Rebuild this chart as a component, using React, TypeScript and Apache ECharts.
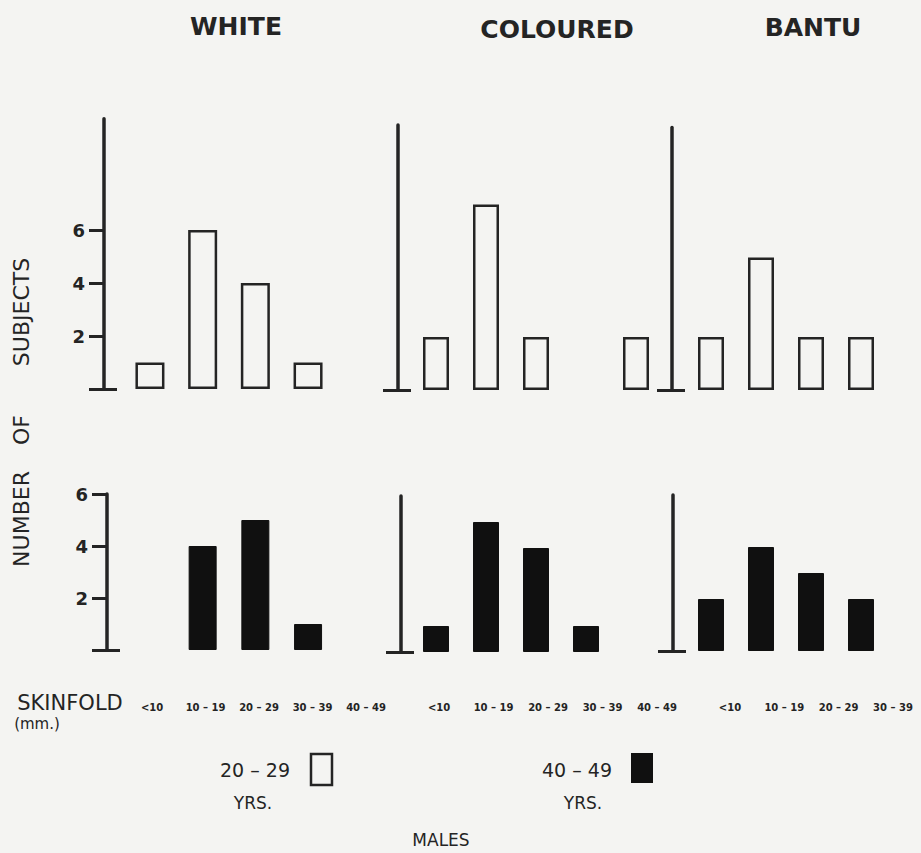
import React, { useEffect, useRef } from "react";
import * as echarts from "echarts";

// Skinfold thickness bands (mm)
const skinfoldBands = ["<10", "10 – 19", "20 – 29", "30 – 39", "40 – 49"];
const bantuBands = skinfoldBands.slice(0, 4);
const groups = ["WHITE", "COLOURED", "BANTU"];

// Number of subjects, males aged 20 – 29
const white2029 = [1, 6, 4, 1, 0];
const coloured2029 = [2, 7, 2, 0, 2];
const bantu2029 = [2, 5, 2, 2];

// Number of subjects, males aged 40 – 49
const white4049 = [0, 4, 5, 1, 0];
const coloured4049 = [1, 5, 4, 1, 0];
const bantu4049 = [2, 4, 3, 2];

const yTickValues = [2, 4, 6];
const ageGroups = ["20 – 29", "40 – 49"];

const INK = "#242424";
const SOLID = "#101010";
const PAPER = "#f4f4f2";
const FONT = "'DejaVu Sans', sans-serif";

type Panel = {
  cats: string[];
  values: number[];
  filled: boolean;
  left: number;
  width: number;
  top: number;
  height: number;
  max: number;
  axisOffset: number;
  labels: boolean;
  barWidth: number;
};

const panels: Panel[] = [
  { cats: skinfoldBands, values: white2029, filled: false, left: 123.6, width: 263.5, top: 118.7, height: 270.3, max: 10.2, axisOffset: 19.6, labels: true, barWidth: 29 },
  { cats: skinfoldBands, values: coloured2029, filled: false, left: 411, width: 250, top: 125, height: 265, max: 10, axisOffset: 13, labels: false, barWidth: 26 },
  { cats: bantuBands, values: bantu2029, filled: false, left: 686, width: 200, top: 127.6, height: 262.4, max: 9.9, axisOffset: 14, labels: false, barWidth: 26 },
  { cats: skinfoldBands, values: white4049, filled: true, left: 123.6, width: 263.5, top: 494, height: 156, max: 6, axisOffset: 16.6, labels: true, barWidth: 28 },
  { cats: skinfoldBands, values: coloured4049, filled: true, left: 411, width: 250, top: 496, height: 156, max: 6, axisOffset: 10, labels: false, barWidth: 26 },
  { cats: bantuBands, values: bantu4049, filled: true, left: 686, width: 200, top: 495, height: 156, max: 6, axisOffset: 13, labels: false, barWidth: 26 },
];

// Rows carrying the skinfold band labels under each group
const labelRows = [
  { cats: skinfoldBands, left: 125.3, width: 267.5 },
  { cats: skinfoldBands, left: 411.8, width: 272.5 },
  { cats: bantuBands, left: 702.8, width: 217.3 },
];

const titlePos = [
  [236, 26],
  [557, 29],
  [813, 27],
];

function text(t: string, x: number, y: number, size: number, weight: string, extra: any = {}) {
  return {
    type: "text",
    x,
    y,
    silent: true,
    ...extra,
    style: {
      text: t,
      fill: INK,
      fontSize: size,
      fontFamily: FONT,
      fontWeight: weight,
      textAlign: "center",
      textVerticalAlign: "middle",
    },
  };
}

function buildOption() {
  const grid: any[] = [];
  const xAxis: any[] = [];
  const yAxis: any[] = [];
  const series: any[] = [];

  panels.forEach((p, i) => {
    grid.push({ left: p.left, top: p.top, width: p.width, height: p.height, outerBoundsMode: "none" });
    xAxis.push({
      type: "category",
      gridIndex: i,
      data: p.cats,
      axisLine: { show: false },
      axisTick: { show: false },
      axisLabel: { show: false },
      splitLine: { show: false },
    });
    // main vertical axis with ticks outward
    yAxis.push({
      type: "value",
      gridIndex: i,
      min: 0,
      max: p.max,
      position: "left",
      offset: p.axisOffset,
      axisLine: { show: true, lineStyle: { color: INK, width: 3.5 } },
      axisTick: {
        show: true,
        length: 15,
        customValues: p.labels ? [0, ...yTickValues] : [0],
        lineStyle: { color: INK, width: 3 },
      },
      axisLabel: p.labels
        ? {
            show: true,
            customValues: yTickValues,
            margin: 19,
            fontSize: 18,
            fontWeight: "bold",
            fontFamily: FONT,
            color: INK,
          }
        : { show: false },
      splitLine: { show: false },
    });
    // base tick crossing the axis foot
    yAxis.push({
      type: "value",
      gridIndex: i,
      min: 0,
      max: p.max,
      position: "left",
      offset: p.axisOffset,
      axisLine: { show: false },
      axisTick: {
        show: true,
        inside: true,
        length: 13,
        customValues: [0],
        lineStyle: { color: INK, width: 3 },
      },
      axisLabel: { show: false },
      splitLine: { show: false },
    });
    series.push({
      type: "bar",
      name: p.filled ? ageGroups[1] : ageGroups[0],
      xAxisIndex: i,
      yAxisIndex: 2 * i,
      data: p.values.map((v) => (v === 0 ? null : v)),
      barWidth: p.barWidth,
      silent: true,
      itemStyle: p.filled
        ? { color: SOLID, borderColor: SOLID, borderWidth: 1 }
        : { color: PAPER, borderColor: INK, borderWidth: 2.5 },
    });
  });

  labelRows.forEach((r, j) => {
    const gi = panels.length + j;
    grid.push({ left: r.left, top: 695, width: r.width, height: 2, outerBoundsMode: "none" });
    xAxis.push({
      type: "category",
      gridIndex: gi,
      data: r.cats,
      position: "bottom",
      axisLine: { show: false },
      axisTick: { show: false },
      axisLabel: {
        show: true,
        interval: 0,
        margin: 5,
        fontSize: 10,
        fontWeight: "bold",
        fontFamily: FONT,
        color: INK,
      },
      splitLine: { show: false },
    });
    yAxis.push({ type: "value", gridIndex: gi, show: false });
  });

  const graphic: any[] = [];
  groups.forEach((g, k) => {
    graphic.push(text(g, titlePos[k][0], titlePos[k][1], 25, "bold"));
  });
  // vertical axis title
  graphic.push(text("SUBJECTS", 21, 312, 22, "normal", { rotation: Math.PI / 2 }));
  graphic.push(text("OF", 21, 430, 22, "normal", { rotation: Math.PI / 2 }));
  graphic.push(text("NUMBER", 21, 519, 22, "normal", { rotation: Math.PI / 2 }));
  // horizontal axis title
  graphic.push(text("SKINFOLD", 70, 703, 21, "normal"));
  graphic.push(text("(mm.)", 37, 724, 15, "normal"));
  // key
  graphic.push(text(ageGroups[0], 255, 770, 19, "normal"));
  graphic.push({
    type: "rect",
    silent: true,
    shape: { x: 311, y: 754, width: 21, height: 31 },
    style: { fill: "none", stroke: INK, lineWidth: 2.5 },
  });
  graphic.push(text("YRS.", 253, 803, 17, "normal"));
  graphic.push(text(ageGroups[1], 577, 770, 19, "normal"));
  graphic.push({
    type: "rect",
    silent: true,
    shape: { x: 631, y: 753, width: 22, height: 30 },
    style: { fill: SOLID },
  });
  graphic.push(text("YRS.", 583, 803, 17, "normal"));
  graphic.push(text("MALES", 441, 840, 17, "normal"));

  return {
    animation: false,
    backgroundColor: PAPER,
    grid,
    xAxis,
    yAxis,
    series,
    graphic,
  };
}

export default function App() {
  const ref = useRef<HTMLDivElement>(null);
  useEffect(() => {
    if (!ref.current) return;
    const chart = echarts.init(ref.current, undefined, { renderer: "svg" });
    chart.setOption(buildOption() as any);
    return () => chart.dispose();
  }, []);
  return (
    <div
      ref={ref}
      style={{ position: "fixed", left: 0, top: 0, width: 921, height: 853 }}
    />
  );
}
